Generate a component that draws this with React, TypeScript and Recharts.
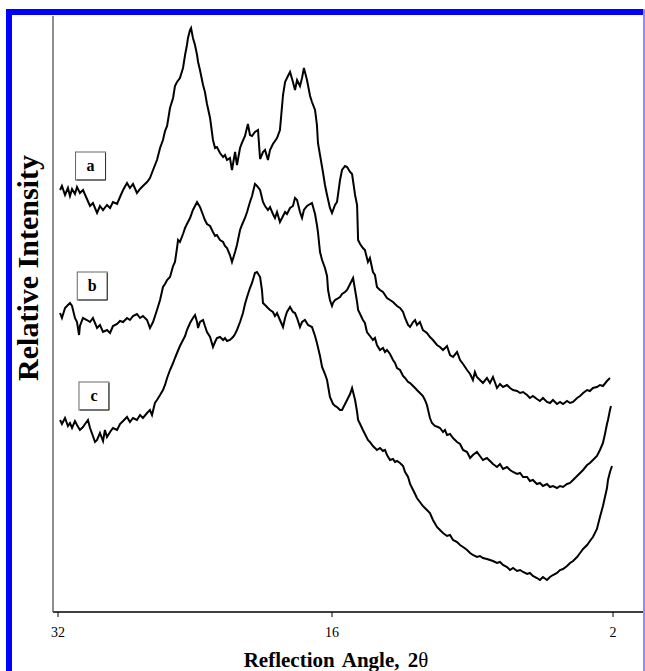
import { LineChart, Line, XAxis, YAxis, ReferenceDot, Label } from 'recharts'

// 2θ tick labels, high angle on the left
const ANGLE_TICKS = [32, 16, 2]

// sample tags drawn next to each trace: [2θ, intensity]
const SAMPLE_NAMES = ['a', 'b', 'c']
const SAMPLE_TAGS: [number, number][] = [
  [30.1, 446],
  [30.0, 326],
  [29.9, 216],
]

// diffraction traces, [2θ, relative intensity] (stacked with offsets)
const traceA: [number, number][] = [
  [31.88, 422], [31.77, 426], [31.59, 417], [31.42, 424], [31.3, 416], [31.18, 423], [31.01, 418], [30.89, 425],
  [30.72, 419], [30.54, 422], [30.31, 413], [30.13, 406], [29.96, 409], [29.72, 399], [29.55, 406], [29.37, 402],
  [29.14, 407], [28.96, 404], [28.79, 410], [28.55, 408], [28.38, 415], [28.2, 422], [27.97, 429], [27.8, 424],
  [27.62, 428], [27.39, 419], [27.21, 423], [27.04, 426], [26.8, 430], [26.63, 434], [26.45, 442], [26.22, 452],
  [26.04, 464], [25.87, 472], [25.75, 481], [25.63, 486], [25.46, 504], [25.28, 514], [25.17, 526], [25.05, 530],
  [24.88, 534], [24.7, 544], [24.58, 557], [24.47, 567], [24.41, 574], [24.29, 582], [24.23, 584], [24.12, 574],
  [24.0, 567], [23.88, 557], [23.82, 550], [23.71, 542], [23.53, 527], [23.42, 520], [23.3, 508], [23.12, 494],
  [22.95, 472], [22.83, 464], [22.72, 465], [22.54, 459], [22.36, 455], [22.25, 457], [22.13, 452], [21.96, 454],
  [21.84, 442], [21.66, 460], [21.55, 447], [21.37, 464], [21.26, 469], [21.08, 476], [20.91, 488], [20.79, 477],
  [20.67, 476], [20.5, 480], [20.32, 482], [20.2, 453], [20.03, 460], [19.91, 462], [19.74, 452], [19.62, 462],
  [19.45, 468], [19.21, 474], [19.04, 482], [18.86, 517], [18.74, 530], [18.63, 534], [18.45, 540], [18.28, 530],
  [18.16, 522], [18.04, 532], [17.87, 526], [17.75, 534], [17.64, 544], [17.46, 532], [17.28, 516], [17.17, 510],
  [16.99, 502], [16.88, 487], [16.82, 469], [16.7, 457], [16.53, 440], [16.41, 427], [16.29, 417], [16.12, 404],
  [16.0, 399], [15.85, 407], [15.75, 410], [15.6, 432], [15.5, 442], [15.35, 446], [15.25, 445], [15.1, 440],
  [15.0, 438], [14.85, 417], [14.75, 407], [14.7, 372], [14.6, 368], [14.46, 364], [14.36, 362], [14.21, 350],
  [14.11, 354], [13.96, 340], [13.86, 337], [13.76, 325], [13.61, 322], [13.46, 320], [13.26, 314], [13.11, 312],
  [12.96, 310], [12.76, 306], [12.61, 304], [12.46, 300], [12.36, 294], [12.21, 287], [12.11, 285], [11.96, 290],
  [11.86, 292], [11.77, 287], [11.62, 290], [11.47, 282], [11.27, 279], [11.12, 275], [10.97, 272], [10.77, 267],
  [10.62, 265], [10.47, 262], [10.27, 266], [10.12, 257], [9.97, 255], [9.77, 260], [9.62, 252], [9.47, 248],
  [9.27, 242], [9.12, 238], [8.98, 232], [8.88, 240], [8.78, 235], [8.63, 232], [8.48, 229], [8.28, 234],
  [8.13, 229], [7.98, 235], [7.78, 224], [7.63, 228], [7.48, 225], [7.28, 227], [7.13, 224], [6.98, 222],
  [6.78, 221], [6.63, 219], [6.48, 220], [6.28, 217], [6.14, 214], [5.99, 216], [5.79, 213], [5.64, 211],
  [5.49, 214], [5.29, 210], [5.14, 209], [4.99, 212], [4.79, 208], [4.64, 210], [4.49, 208], [4.29, 211],
  [4.14, 209], [3.99, 210], [3.79, 214], [3.64, 216], [3.49, 219], [3.29, 222], [3.15, 221], [3.0, 224],
  [2.8, 225], [2.65, 227], [2.5, 226], [2.3, 231], [2.15, 234],
]

const traceB: [number, number][] = [
  [31.88, 299], [31.77, 294], [31.59, 304], [31.42, 307], [31.3, 309], [31.18, 306], [31.01, 294], [30.89, 290],
  [30.77, 277], [30.72, 286], [30.54, 294], [30.31, 292], [30.13, 290], [29.96, 294], [29.72, 284], [29.55, 287],
  [29.37, 280], [29.14, 282], [28.96, 279], [28.79, 286], [28.55, 288], [28.38, 291], [28.2, 290], [27.97, 294],
  [27.8, 292], [27.62, 296], [27.39, 298], [27.21, 294], [27.04, 296], [26.8, 292], [26.63, 284], [26.45, 290],
  [26.22, 302], [26.04, 312], [25.87, 325], [25.75, 328], [25.63, 332], [25.46, 335], [25.28, 346], [25.17, 350],
  [25.05, 364], [24.99, 372], [24.88, 370], [24.7, 378], [24.58, 384], [24.47, 388], [24.29, 394], [24.12, 402],
  [24.0, 406], [23.88, 410], [23.71, 405], [23.53, 397], [23.42, 392], [23.3, 388], [23.12, 386], [22.95, 380],
  [22.83, 376], [22.72, 377], [22.54, 372], [22.36, 370], [22.25, 366], [22.13, 364], [21.96, 357], [21.84, 350],
  [21.66, 360], [21.55, 367], [21.37, 382], [21.26, 387], [21.08, 394], [20.96, 400], [20.79, 410], [20.67, 416],
  [20.5, 428], [20.38, 426], [20.2, 422], [20.03, 410], [19.91, 406], [19.74, 402], [19.62, 405], [19.45, 398],
  [19.33, 394], [19.21, 400], [19.04, 390], [18.86, 396], [18.74, 400], [18.63, 398], [18.45, 404], [18.28, 406],
  [18.16, 414], [18.04, 412], [17.87, 400], [17.75, 394], [17.64, 402], [17.46, 406], [17.28, 408], [17.17, 409],
  [16.99, 398], [16.88, 387], [16.82, 380], [16.7, 360], [16.58, 352], [16.41, 344], [16.29, 336], [16.23, 322],
  [16.12, 312], [16.0, 306], [15.95, 309], [15.85, 312], [15.75, 313], [15.6, 315], [15.5, 318], [15.35, 320],
  [15.25, 322], [15.1, 328], [14.95, 334], [14.85, 322], [14.75, 310], [14.7, 302], [14.6, 298], [14.46, 292],
  [14.36, 289], [14.26, 280], [14.11, 276], [13.96, 272], [13.86, 274], [13.76, 267], [13.61, 262], [13.46, 264],
  [13.36, 260], [13.26, 262], [13.11, 258], [12.96, 252], [12.86, 249], [12.76, 244], [12.61, 242], [12.46, 236],
  [12.36, 234], [12.21, 230], [12.11, 229], [11.96, 226], [11.86, 224], [11.77, 222], [11.62, 219], [11.47, 216],
  [11.37, 212], [11.27, 207], [11.12, 194], [11.02, 189], [10.87, 186], [10.72, 185], [10.62, 184], [10.47, 180],
  [10.37, 182], [10.27, 177], [10.12, 178], [9.97, 174], [9.77, 170], [9.62, 168], [9.47, 162], [9.27, 160],
  [9.12, 154], [8.98, 157], [8.78, 160], [8.63, 156], [8.48, 152], [8.28, 154], [8.13, 151], [7.98, 148],
  [7.78, 145], [7.63, 148], [7.48, 143], [7.28, 145], [7.13, 142], [6.98, 140], [6.78, 138], [6.63, 139],
  [6.48, 135], [6.28, 135], [6.14, 131], [5.99, 132], [5.79, 128], [5.64, 129], [5.49, 126], [5.29, 128],
  [5.14, 125], [4.99, 126], [4.79, 124], [4.64, 126], [4.49, 125], [4.29, 128], [4.14, 129], [3.99, 132],
  [3.79, 136], [3.64, 139], [3.49, 142], [3.29, 147], [3.15, 149], [3.0, 152], [2.8, 156], [2.65, 162],
  [2.5, 169], [2.4, 178], [2.3, 188], [2.25, 192], [2.15, 202], [2.1, 206],
]

const traceC: [number, number][] = [
  [31.88, 192], [31.77, 188], [31.59, 194], [31.42, 186], [31.3, 189], [31.18, 184], [31.01, 191], [30.89, 187],
  [30.72, 182], [30.54, 185], [30.42, 188], [30.25, 192], [30.13, 184], [29.96, 176], [29.84, 170], [29.72, 172],
  [29.55, 179], [29.37, 171], [29.26, 182], [29.14, 175], [28.96, 180], [28.79, 184], [28.55, 182], [28.38, 188],
  [28.2, 191], [27.97, 195], [27.8, 190], [27.62, 194], [27.39, 192], [27.21, 197], [27.04, 194], [26.8, 199],
  [26.63, 202], [26.51, 197], [26.34, 209], [26.22, 212], [26.04, 217], [25.87, 222], [25.75, 227], [25.63, 234],
  [25.46, 242], [25.28, 249], [25.17, 254], [25.05, 259], [24.88, 266], [24.7, 272], [24.58, 276], [24.47, 282],
  [24.29, 289], [24.12, 294], [24.0, 297], [23.88, 290], [23.82, 284], [23.71, 290], [23.53, 292], [23.42, 286],
  [23.3, 280], [23.12, 275], [22.95, 265], [22.83, 270], [22.72, 274], [22.54, 275], [22.36, 272], [22.25, 274],
  [22.13, 271], [21.96, 272], [21.78, 275], [21.66, 278], [21.55, 282], [21.37, 290], [21.2, 299], [21.08, 308],
  [20.96, 315], [20.79, 324], [20.67, 329], [20.5, 339], [20.38, 340], [20.2, 335], [20.09, 322], [20.03, 309],
  [19.91, 307], [19.74, 304], [19.62, 302], [19.45, 300], [19.33, 296], [19.21, 299], [19.04, 292], [18.86, 285],
  [18.74, 294], [18.63, 300], [18.45, 305], [18.28, 300], [18.16, 299], [18.04, 294], [17.87, 285], [17.75, 290],
  [17.58, 292], [17.4, 287], [17.17, 285], [16.99, 276], [16.88, 269], [16.7, 256], [16.58, 245], [16.41, 238],
  [16.29, 232], [16.12, 215], [15.95, 208], [15.85, 206], [15.75, 205], [15.6, 202], [15.5, 202], [15.35, 208],
  [15.25, 212], [15.1, 218], [15.0, 224], [14.95, 220], [14.85, 212], [14.75, 200], [14.7, 192], [14.6, 188],
  [14.46, 182], [14.36, 178], [14.21, 172], [14.11, 170], [13.96, 166], [13.86, 164], [13.76, 162], [13.61, 164],
  [13.46, 161], [13.36, 162], [13.26, 157], [13.11, 152], [12.96, 153], [12.86, 150], [12.76, 151], [12.61, 149],
  [12.46, 146], [12.36, 140], [12.21, 135], [12.11, 128], [11.96, 122], [11.86, 118], [11.77, 114], [11.62, 110],
  [11.47, 106], [11.37, 104], [11.27, 102], [11.12, 99], [10.97, 92], [10.77, 85], [10.62, 82], [10.47, 79],
  [10.27, 76], [10.12, 77], [9.97, 72], [9.77, 70], [9.62, 67], [9.47, 65], [9.27, 62], [9.12, 59],
  [8.98, 57], [8.78, 55], [8.63, 56], [8.48, 54], [8.28, 53], [8.13, 52], [7.98, 51], [7.78, 49],
  [7.63, 50], [7.48, 47], [7.28, 45], [7.13, 42], [6.98, 44], [6.78, 41], [6.63, 42], [6.48, 40],
  [6.28, 38], [6.14, 39], [5.99, 36], [5.79, 34], [5.64, 32], [5.49, 35], [5.29, 32], [5.14, 35],
  [4.99, 37], [4.79, 39], [4.64, 42], [4.49, 43], [4.29, 46], [4.14, 49], [3.99, 51], [3.79, 55],
  [3.64, 59], [3.49, 63], [3.29, 67], [3.15, 71], [3.0, 75], [2.8, 83], [2.65, 95], [2.5, 106],
  [2.4, 115], [2.3, 124], [2.25, 132], [2.15, 140], [2.05, 146],
]

// the 2θ axis is piecewise: 32→16 and 16→2 get nearly the same length
const toPos = (angle: number) =>
  angle >= 16 ? ((32 - angle) * 274) / 16 : 274 + ((16 - angle) * 281) / 14

const rows = (trace: [number, number][]) => trace.map(([angle, intensity]) => ({ angle, intensity }))

const serif = "'Liberation Serif', 'Times New Roman', Times, serif"

function SampleTag(props: any) {
  const { cx, cy, name } = props
  return (
    <g>
      <rect x={cx - 15} y={cy - 14} width={30} height={28} fill="#fff" stroke="#666" strokeWidth={1} />
      <line x1={cx + 15} y1={cy - 13} x2={cx + 15} y2={cy + 14} stroke="#333" strokeWidth={1} />
      <line x1={cx - 14} y1={cy + 14} x2={cx + 15} y2={cy + 14} stroke="#333" strokeWidth={1} />
      <text x={cx} y={cy + 5} textAnchor="middle" fontFamily={serif} fontWeight="bold" fontSize={16} fill="#000">
        {name}
      </text>
    </g>
  )
}

export default function App() {
  const series = [traceA, traceB, traceC].map(rows)

  return (
    <div style={{ position: 'absolute', left: 0, top: 0, width: 645, height: 671, background: '#fff' }}>
      {/* blue frame */}
      <div style={{ position: 'absolute', left: 6, top: 9, width: 6, height: 662, background: '#0000ff' }} />
      <div style={{ position: 'absolute', left: 6, top: 9, width: 639, height: 6, background: '#0000ff' }} />
      <div style={{ position: 'absolute', left: 643, top: 9, width: 2, height: 662, background: '#8c8cff' }} />

      <div style={{ position: 'absolute', left: 0, top: 0 }}>
        <LineChart width={645} height={671} margin={{ top: 16, right: 2, left: 0, bottom: 0 }}>
          <XAxis
            type="number"
            dataKey={(d: any) => toPos(d.angle)}
            domain={[-5, 585]}
            allowDataOverflow
            ticks={ANGLE_TICKS.map(toPos)}
            tickFormatter={(p: number) => String(ANGLE_TICKS.find((a) => Math.abs(toPos(a) - p) < 0.01) ?? '')}
            height={59}
            axisLine={{ stroke: '#000', strokeWidth: 1.5 }}
            tickLine={{ stroke: '#000' }}
            tickSize={5}
            tickMargin={10}
            tick={{ fill: '#000', fontFamily: serif, fontSize: 14 }}
          >
            <Label
              content={(p: any) => (
                <text
                  x={p.viewBox.x + 283}
                  y={p.viewBox.y + 55}
                  textAnchor="middle"
                  fontFamily={serif}
                  fontWeight="bold"
                  fontSize={21}
                  wordSpacing={3}
                  fill="#000"
                >
                  Reflection Angle, 2<tspan fontWeight="normal">θ</tspan>
                </text>
              )}
            />
          </XAxis>
          <YAxis
            type="number"
            dataKey="intensity"
            domain={[0, 596]}
            allowDataOverflow
            width={53}
            tick={false}
            tickLine={false}
            axisLine={{ stroke: '#444', strokeWidth: 1.2 }}
          >
            <Label
              content={(p: any) => {
                const x = p.viewBox.x + 38
                const y = p.viewBox.y + p.viewBox.height / 2 - 46
                return (
                  <text
                    x={x}
                    y={y}
                    transform={`rotate(-90, ${x}, ${y})`}
                    textAnchor="middle"
                    fontFamily={serif}
                    fontWeight="bold"
                    fontSize={30}
                    fill="#000"
                  >
                    Relative Intensity
                  </text>
                )
              }}
            />
          </YAxis>
          {series.map((data, i) => (
            <Line
              key={SAMPLE_NAMES[i]}
              data={data}
              dataKey="intensity"
              type="linear"
              stroke="#000"
              strokeWidth={2}
              strokeLinejoin="miter"
              dot={false}
              isAnimationActive={false}
            />
          ))}
          {SAMPLE_TAGS.map(([angle, intensity], i) => (
            <ReferenceDot
              key={`tag-${SAMPLE_NAMES[i]}`}
              x={toPos(angle)}
              y={intensity}
              shape={(p: any) => <SampleTag cx={p.cx} cy={p.cy} name={SAMPLE_NAMES[i]} />}
            />
          ))}
        </LineChart>
      </div>
    </div>
  )
}
